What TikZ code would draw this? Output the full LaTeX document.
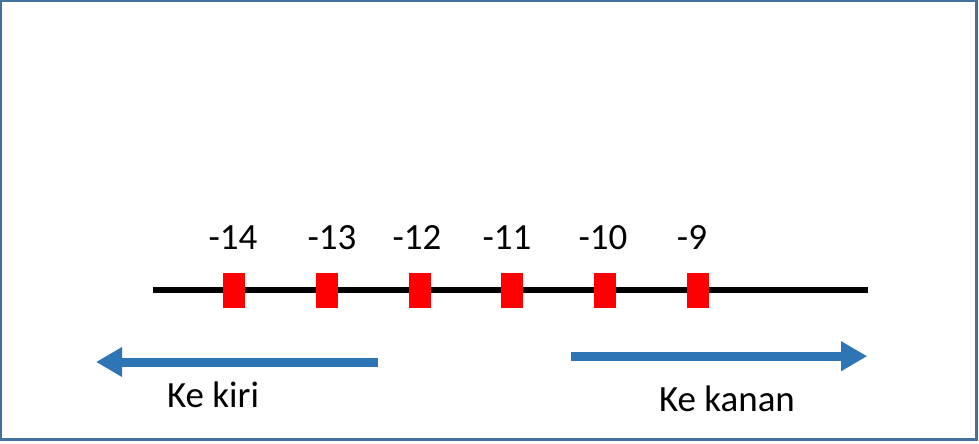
\documentclass[tikz,border=0pt]{standalone}
\usepackage{fontspec}
\setmainfont{Carlito}
\usetikzlibrary{arrows.meta}
\definecolor{framec}{HTML}{41719C}
\definecolor{arrowc}{HTML}{2E75B6}
\tikzset{
  mark box/.style={fill=red, minimum width=0.55cm, minimum height=0.875cm, inner sep=0pt},
  num label/.style={font=\fontsize{26.3}{30}\selectfont, inner sep=0pt},
  dir arrow/.style={arrowc, line width=0.225cm, -{Triangle[length=0.65cm, width=0.7cm]}}
}
\begin{document}
\begin{tikzpicture}
    \useasboundingbox (0,0) rectangle (24.475,11.075);
    \draw[framec, line width=0.075cm] (0.025,0.0875) rectangle (24.41,11.05);

    % Number line
    \coordinate (lstart) at (3.83,3.825);
    \coordinate (lend) at (21.7,3.825);
    \draw[line width=0.15cm] (lstart) -- (lend);

    % Marks and their numbers
    \foreach \n/\x/\lx in {14/5.85/5.825, 13/8.175/8.3, 12/10.5/10.425, 11/12.8/12.675, 10/15.125/15.075, 9/17.45/17.3} {
        \node[mark box] (m\n) at (\x,3.825) {};
        \node[num label] (t\n) at (\lx,5.125) {-\n};
      }

    % Directions
    \coordinate (ltail) at (9.45,2.025);
    \coordinate (lhead) at (2.4,2.025);
    \draw[dir arrow] (ltail) -- (lhead);
    \node[num label] (kiri) at (5.325,1.2) {Ke kiri};

    \coordinate (rtail) at (14.275,2.17);
    \coordinate (rhead) at (21.68,2.17);
    \draw[dir arrow] (rtail) -- (rhead);
    \node[num label] (kanan) at (18.175,1.1) {Ke kanan};
  \end{tikzpicture}
\end{document}
